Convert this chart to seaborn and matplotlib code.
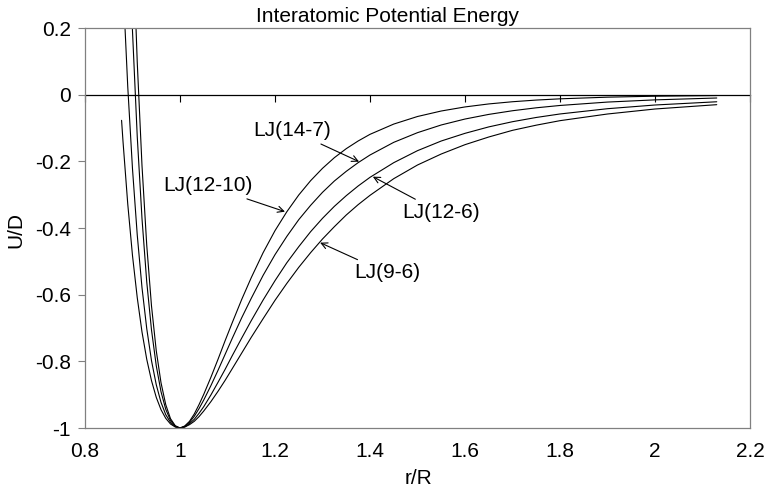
import numpy as np
import pandas as pd
import matplotlib
matplotlib.use("Agg")
import matplotlib.pyplot as plt
import seaborn as sns

# ---- data ----
r_ratio = [0.877, 0.88, 0.89, 0.90, 0.91, 0.92, 0.93, 0.94, 0.95, 0.96, 0.97, 0.98, 0.99,
           1.00, 1.01, 1.02, 1.03, 1.04, 1.05, 1.065, 1.08, 1.095, 1.11, 1.13, 1.15, 1.175,
           1.20, 1.225, 1.25, 1.275, 1.30, 1.325, 1.35, 1.375, 1.40, 1.45, 1.50, 1.55,
           1.60, 1.65, 1.70, 1.75, 1.80, 1.90, 2.00, 2.13]

u_lj_12_10 = [1.861, 1.640, 1.002, 0.496, 0.097, -0.213, -0.452, -0.634, -0.768, -0.864,
              -0.930, -0.972, -0.993, -1.0, -0.994, -0.980, -0.958, -0.930, -0.899,
              -0.848, -0.794, -0.738, -0.684, -0.614, -0.549, -0.474, -0.408, -0.351,
              -0.301, -0.258, -0.221, -0.189, -0.162, -0.139, -0.119, -0.0882, -0.0655,
              -0.0490, -0.0368, -0.0278, -0.0212, -0.0162, -0.0125, -0.0075, -0.0046,
              -0.0026]
u_lj_14_7 = [1.268, 1.094, 0.590, 0.190, -0.126, -0.372, -0.562, -0.706, -0.813, -0.891,
             -0.944, -0.977, -0.995, -1.0, -0.995, -0.983, -0.965, -0.942, -0.916,
             -0.873, -0.827, -0.779, -0.731, -0.669, -0.611, -0.542, -0.480, -0.425,
             -0.375, -0.332, -0.293, -0.259, -0.230, -0.204, -0.181, -0.143, -0.114,
             -0.0909, -0.0731, -0.0592, -0.0482, -0.0394, -0.0324, -0.0222, -0.0156,
             -0.0100]
u_lj_12_6 = [0.435, 0.330, 0.024, -0.223, -0.421, -0.579, -0.702, -0.798, -0.870, -0.923,
             -0.960, -0.983, -0.996, -1.0, -0.997, -0.987, -0.974, -0.956, -0.936,
             -0.901, -0.863, -0.824, -0.783, -0.730, -0.678, -0.616, -0.558, -0.504,
             -0.456, -0.411, -0.371, -0.335, -0.303, -0.274, -0.248, -0.204, -0.168,
             -0.139, -0.116, -0.0967, -0.0811, -0.0684, -0.0579, -0.0421, -0.0310,
             -0.0213]
u_lj_9_6 = [-0.077, -0.140, -0.328, -0.483, -0.609, -0.712, -0.794, -0.858, -0.908, -0.945,
            -0.971, -0.988, -0.997, -1.0, -0.997, -0.990, -0.980, -0.966, -0.949,
            -0.921, -0.890, -0.857, -0.822, -0.775, -0.728, -0.672, -0.617, -0.566,
            -0.518, -0.474, -0.433, -0.396, -0.361, -0.330, -0.302, -0.252, -0.211,
            -0.178, -0.150, -0.127, -0.107, -0.0915, -0.078, -0.058, -0.043, -0.030]

series_names = ["LJ(12-10)", "LJ(14-7)", "LJ(12-6)", "LJ(9-6)"]
series_values = [u_lj_12_10, u_lj_14_7, u_lj_12_6, u_lj_9_6]

# label annotations: text anchor (left, centre) and arrow tip, in data units
label_text_x = [0.964, 1.154, 1.467, 1.366]
label_text_y = [-0.273, -0.108, -0.354, -0.535]
label_tip_x = [1.221, 1.377, 1.406, 1.295]
label_tip_y = [-0.351, -0.201, -0.246, -0.444]

x_ticks = [0.8, 1.0, 1.2, 1.4, 1.6, 1.8, 2.0, 2.2]
x_tick_labels = ["0.8", "1", "1.2", "1.4", "1.6", "1.8", "2", "2.2"]
y_ticks = [0.2, 0.0, -0.2, -0.4, -0.6, -0.8, -1.0]
y_tick_labels = ["0.2", "0", "-0.2", "-0.4", "-0.6", "-0.8", "-1"]

df = pd.concat(
    [pd.DataFrame({"r": r_ratio, "U": vals, "curve": name})
     for name, vals in zip(series_names, series_values)],
    ignore_index=True,
)

# ---- styling ----
sns.set_theme(style="white")
plt.rcParams["font.family"] = ["Liberation Sans", "DejaVu Sans"]
plt.rcParams["axes.unicode_minus"] = False

FS = 15
GREY = "#808080"

fig = plt.figure(figsize=(7.68, 4.87), dpi=100)
ax = fig.add_axes([85 / 768, 59 / 487, 665 / 768, 400 / 487])

sns.lineplot(data=df, x="r", y="U", hue="curve", palette=["black"] * 4,
             legend=False, linewidth=0.8, estimator=None, ax=ax)

ax.set_xlim(0.8, 2.2)
ax.set_ylim(-1.0, 0.2)

ax.set_xticks(x_ticks)
ax.set_xticklabels(x_tick_labels, fontsize=FS, color="black")
ax.set_yticks(y_ticks)
ax.set_yticklabels(y_tick_labels, fontsize=FS, color="black")
ax.tick_params(axis="x", length=0, pad=10)
ax.tick_params(axis="y", direction="out", length=5, width=0.8, color=GREY, pad=5, left=True)

for side in ["left", "right", "top", "bottom"]:
    ax.spines[side].set_visible(True)
    ax.spines[side].set_color(GREY)
    ax.spines[side].set_linewidth(0.9)

# horizontal axis line at U/D = 0 with downward tick marks
sec = ax.secondary_xaxis(1.0 / 1.2)
sec.set_alignment("bottom")
sec.set_xticks(x_ticks)
sec.tick_params(axis="x", direction="out", length=5, width=0.8, color="black",
                labelbottom=False, labeltop=False, bottom=True, top=False)
sec.spines["bottom"].set_color("black")
sec.spines["bottom"].set_linewidth(0.9)
sec.spines["top"].set_visible(False)

# labels
ax.set_xlabel("r/R", fontsize=FS, color="black")
ax.xaxis.set_label_coords((418 - 85) / 665, (428 - 469) / 400)
ax.set_ylabel("U/D", fontsize=FS, color="black")
ax.yaxis.set_label_coords((25 - 85) / 665, (428 - 230) / 400)

fig.text(388 / 768, 1 - 22 / 487, "Interatomic Potential Energy", fontsize=FS,
         ha="center", va="baseline", color="black")

for name, tx, ty, px, py in zip(series_names, label_text_x, label_text_y,
                                label_tip_x, label_tip_y):
    ax.annotate(name, xy=(px, py), xytext=(tx, ty), fontsize=FS, ha="left", va="center",
                color="black",
                arrowprops=dict(arrowstyle="->", color="black", lw=0.8,
                                shrinkA=1, shrinkB=0, mutation_scale=11))

fig.savefig("out.png", dpi=100)
